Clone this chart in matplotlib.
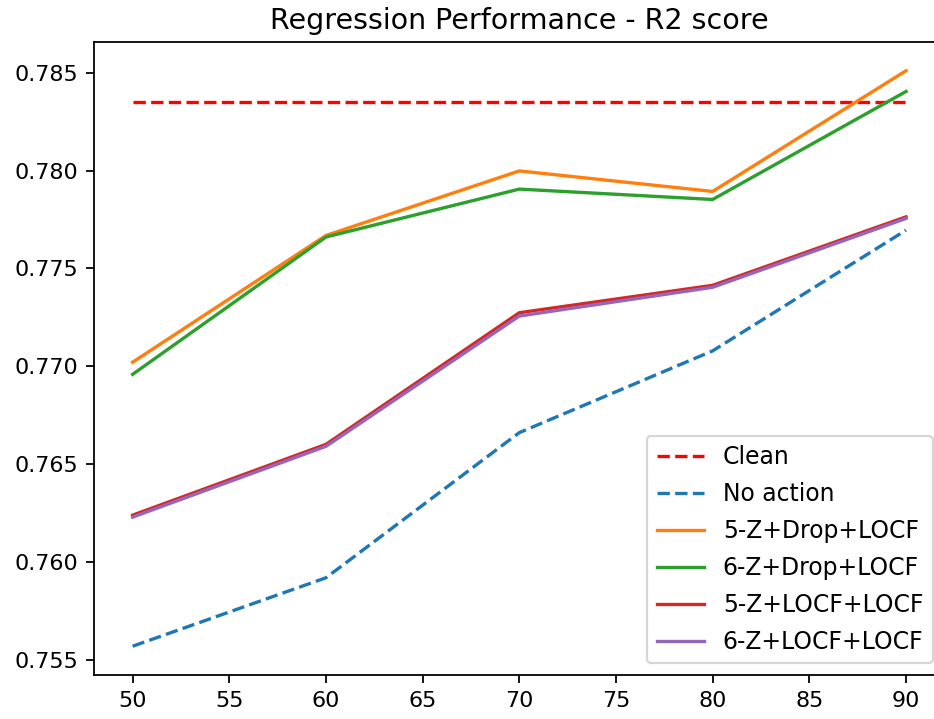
import matplotlib.pyplot as plt

# missing-rate levels on the x axis
rates = [50, 60, 70, 80, 90]

clean_score = 0.78348
no_action = [0.75568, 0.75918, 0.76660, 0.77078, 0.77695]
z5_drop_locf = [0.77020, 0.77668, 0.77998, 0.77893, 0.78510]
z6_drop_locf = [0.76958, 0.77660, 0.77905, 0.77852, 0.78404]
z5_locf_locf = [0.76238, 0.76600, 0.77273, 0.77413, 0.77763]
z6_locf_locf = [0.76228, 0.76590, 0.77256, 0.77403, 0.77755]

fig = plt.figure(figsize=(934 / 160, 719 / 160), dpi=160)
ax = fig.add_axes([0.1006, 0.0612, 0.9108, 0.8804])

ax.plot(rates, [clean_score] * len(rates), "r--", label="Clean")
ax.plot(rates, no_action, "--", color="tab:blue", label="No action")
ax.plot(rates, z5_drop_locf, color="tab:orange", label="5-Z+Drop+LOCF")
ax.plot(rates, z6_drop_locf, color="tab:green", label="6-Z+Drop+LOCF")
ax.plot(rates, z5_locf_locf, color="tab:red", label="5-Z+LOCF+LOCF")
ax.plot(rates, z6_locf_locf, color="tab:purple", label="6-Z+LOCF+LOCF")

ax.set_title("Regression Performance - R2 score", fontsize=12.8)
ax.legend(loc="lower right", fontsize=10.6, labelspacing=0.55)

fig.savefig("out.png", dpi=160)
